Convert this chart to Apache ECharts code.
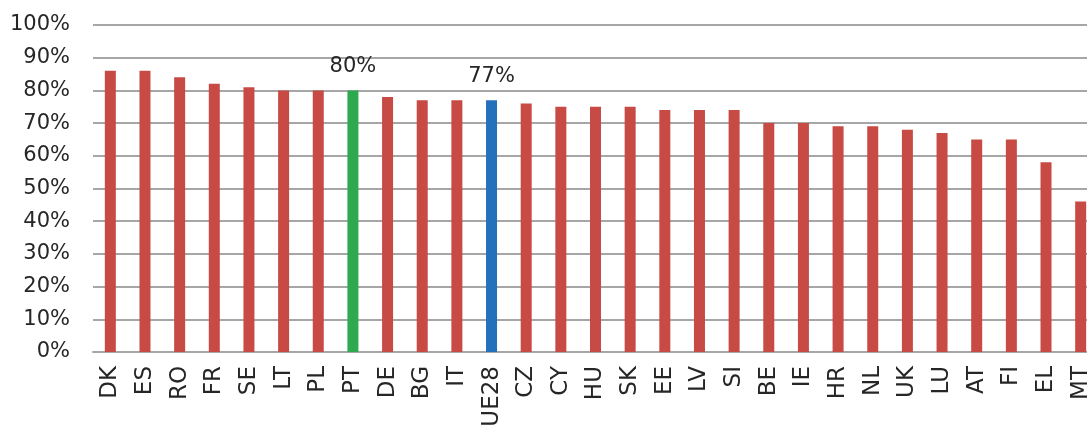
<!DOCTYPE html>
<html><head><meta charset="utf-8">
<script src="https://cdn.jsdelivr.net/npm/echarts@6/dist/echarts.min.js"></script>
<style>html,body{margin:0;padding:0;background:#fff;overflow:hidden;width:1087px;height:425px}#c{width:1098px;height:425px}</style>
</head><body><div id="c"></div>
<script>
const categories = ['DK','ES','RO','FR','SE','LT','PL','PT','DE','BG','IT','UE28','CZ','CY','HU','SK','EE','LV','SI','BE','IE','HR','NL','UK','LU','AT','FI','EL','MT'];
const values = [86,86,84,82,81,80,80,80,78,77,77,77,76,75,75,75,74,74,74,70,70,69,69,68,67,65,65,58,46];
const highlightGreen = ['PT'];
const highlightBlue = ['UE28'];
const yTicks = [0,10,20,30,40,50,60,70,80,90,100];

const RED = '#C84A44', GREEN = '#2DAA4F', BLUE = '#2271BA';
const font = 'DejaVu Sans';
const data = values.map((v,i)=>{
  const c = categories[i];
  let color = RED, showLabel = false;
  if (highlightGreen.includes(c)) { color = GREEN; showLabel = true; }
  if (highlightBlue.includes(c)) { color = BLUE; showLabel = true; }
  return { value: v, itemStyle: { color }, label: { show: showLabel } };
});

const chart = echarts.init(document.getElementById('c'), null, {renderer:'canvas'});
chart.setOption({
  animation: false,
  grid: { left: 93, right: 0, top: 25, bottom: 73, containLabel: false, outerBoundsMode: 'none' },
  xAxis: {
    type: 'category', data: categories,
    axisLine: { lineStyle: { color: '#A6A6A6', width: 2 } },
    axisTick: { show: false },
    axisLabel: { rotate: 90, color: '#262626', fontFamily: font, fontSize: 23, margin: 14, interval: 0, hideOverlap: false }
  },
  yAxis: {
    type: 'value', min: yTicks[0], max: yTicks[yTicks.length-1], interval: 10,
    axisLine: { show: false }, axisTick: { show: false },
    splitLine: { lineStyle: { color: '#A6A6A6', width: 2 } },
    axisLabel: { formatter: '{value}%', color: '#262626', fontFamily: font, fontSize: 21, margin: 23 }
  },
  series: [{
    type: 'bar', data, barWidth: 11,
    label: { show: false, position: 'top', distance: 13, formatter: '{c}%', color: '#262626', fontFamily: font, fontSize: 21 }
  }]
});
</script></body></html>
